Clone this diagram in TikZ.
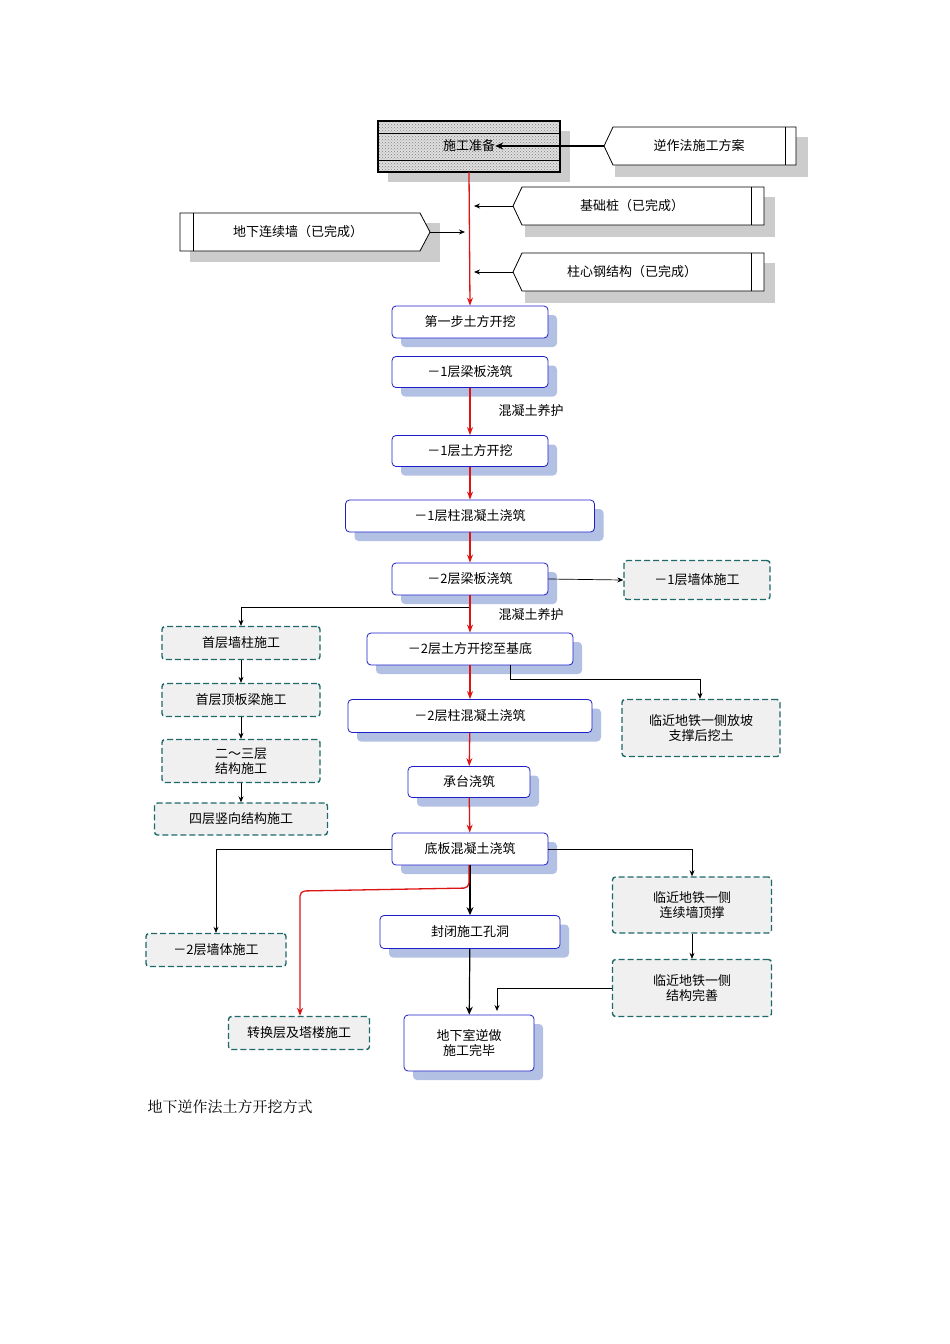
\documentclass[tikz,border=0pt]{standalone}
\usepackage{fontspec}
\setmainfont{Noto Sans CJK SC}
\newfontfamily\capfont{Noto Serif CJK SC}
\usetikzlibrary{arrows.meta,shadows,patterns,calc}
\definecolor{bshadow}{RGB}{178,192,228}
\definecolor{bborder}{RGB}{30,30,200}
\definecolor{tealb}{RGB}{30,105,105}
\definecolor{myred}{RGB}{220,20,20}
\tikzset{
  bn/.style={draw=bborder,thick,rounded corners=4pt,fill=white,font=\fontsize{13}{15}\selectfont,
    drop shadow={shadow xshift=9pt,shadow yshift=-9pt,fill=bshadow,opacity=1},inner sep=2pt},
  dn/.style={draw=tealb,line width=1.4pt,dash pattern=on 6pt off 3pt,rounded corners=3pt,fill=gray!12,
    font=\fontsize{13}{15}\selectfont,align=center,inner sep=1pt},
  gn/.style={font=\fontsize{13}{15}\selectfont,inner sep=0pt},
  ra/.style={myred,line width=1.3pt,-{Stealth[length=8pt,width=6pt]}},
  ka/.style={black,line width=0.7pt,-{Stealth[length=6pt,width=5pt]}},
  kb/.style={black,line width=1.2pt,-{Stealth[length=8pt,width=7pt]}},
  sh/.style={fill=gray!40,draw=none},
}
\begin{document}
\begin{tikzpicture}[x=1pt,y=-1pt]
\useasboundingbox (0,0) rectangle (950,1344);
% 施工准备
\fill[gray!40] (388,131) rectangle (570,182);
\draw[fill=gray!25] (378,121) rectangle (560,172);
\fill[pattern=crosshatch dots,pattern color=gray] (378,121) rectangle (560,172);
\draw[line width=1.2pt] (378,121) rectangle (560,172);
\draw (378,133) -- (560,133) (378,160) -- (560,160);
\node[gn] (prep) at (469,146) {施工准备};
% 逆作法施工方案
\fill[sh] (615,137) rectangle (808,177);
\draw[fill=white,line width=0.8pt] (613,127) -- (796,127) -- (796,165) -- (613,165) -- (604,146) -- cycle;
\draw (785,127) -- (785,165);
\node[gn] (plan) at (699,146) {逆作法施工方案};
\coordinate (planL) at (604,146);
% 基础桩
\fill[sh] (525,197) rectangle (775,237);
\draw[fill=white,line width=0.8pt] (522,187) -- (764,187) -- (764,225) -- (522,225) -- (513,206) -- cycle;
\draw (751,187) -- (751,225);
\node[gn] (pile) at (632,206) {基础桩（已完成）};
\coordinate (pileL) at (513,206);
% 柱心钢结构
\fill[sh] (525,263) rectangle (775,303);
\draw[fill=white,line width=0.8pt] (522,253) -- (764,253) -- (764,291) -- (522,291) -- (513,272) -- cycle;
\draw (751,253) -- (751,291);
\node[gn] (steel) at (632,272) {柱心钢结构（已完成）};
\coordinate (steelL) at (513,272);
% 地下连续墙
\fill[sh] (190,223) rectangle (440,262);
\draw[fill=white,line width=0.8pt] (180,213) -- (420,213) -- (430,232) -- (420,251) -- (180,251) -- cycle;
\draw (193,213) -- (193,251);
\node[gn] (wall) at (298,232) {地下连续墙（已完成）};
\coordinate (wallR) at (430,232);

% blue nodes
\node[bn,minimum width=156pt,minimum height=32pt] (s1) at (470,322) {第一步土方开挖};
\node[bn,minimum width=156pt,minimum height=31pt] (s2) at (470,372) {－1层梁板浇筑};
\node[bn,minimum width=156pt,minimum height=31pt] (s3) at (470,451) {－1层土方开挖};
\node[bn,minimum width=249pt,minimum height=32pt] (s4) at (470,516) {－1层柱混凝土浇筑};
\node[bn,minimum width=156pt,minimum height=32pt] (s5) at (470,579) {－2层梁板浇筑};
\node[bn,minimum width=206pt,minimum height=32pt] (s6) at (470,649) {－2层土方开挖至基底};
\node[bn,minimum width=244pt,minimum height=33pt] (s7) at (470,716) {－2层柱混凝土浇筑};
\node[bn,minimum width=122pt,minimum height=31pt] (s8) at (469,782) {承台浇筑};
\node[bn,minimum width=156pt,minimum height=32pt] (s9) at (470,849) {底板混凝土浇筑};
\node[bn,minimum width=180pt,minimum height=33pt] (s10) at (470,932) {封闭施工孔洞};
\node[bn,minimum width=130pt,minimum height=56pt,align=center] (s11) at (469,1043) {地下室逆做\\施工完毕};

% dashed nodes
\node[dn,minimum width=146pt,minimum height=39pt] (w1) at (697,580) {－1层墙体施工};
\node[dn,minimum width=158pt,minimum height=33pt] (f1) at (241,643) {首层墙柱施工};
\node[dn,minimum width=158pt,minimum height=33pt] (f2) at (241,700) {首层顶板梁施工};
\node[dn,minimum width=158pt,minimum height=43pt] (f3) at (241,761) {二～三层\\结构施工};
\node[dn,minimum width=173pt,minimum height=32pt] (f4) at (241,819) {四层竖向结构施工};
\node[dn,minimum width=158pt,minimum height=57pt] (m1) at (701,728) {临近地铁一侧放坡\\支撑后挖土};
\node[dn,minimum width=159pt,minimum height=56pt] (m2) at (692,905) {临近地铁一侧\\连续墙顶撑};
\node[dn,minimum width=159pt,minimum height=57pt] (m3) at (692,988) {临近地铁一侧\\结构完善};
\node[dn,minimum width=140pt,minimum height=33pt] (w2) at (216,950) {－2层墙体施工};
\node[dn,minimum width=141pt,minimum height=33pt] (t1) at (299,1033) {转换层及塔楼施工};

\node[gn] (cure1) at (531,411) {混凝土养护};
\node[gn] (cure2) at (531,615) {混凝土养护};

% connectors top
\draw[kb] (planL) -- (prep.east |- planL);
\coordinate (j0) at (469,172);
\draw[ra] (j0) -- (s1.north);
\draw[ka] (pileL) -- (474,206);
\draw[ka] (steelL) -- (474,272);
\draw[ka] (wallR) -- (465,232);
% main chain
\draw[ra] (s2) -- (s3);
\draw[ra] (s3) -- (s4);
\draw[ra] (s4) -- (s5);
\draw[ra] (s5) -- (s6);
\draw[ra] (s6) -- (s7);
\draw[ra] (s7) -- (s8);
\draw[ra] (s8) -- (s9);
% branches
\draw[ka] (s5.east) -- (w1.west);
\draw[ka] (469,607) -| (f1.north);
\draw[ka] (f1) -- (f2);
\draw[ka] (f2) -- (f3);
\draw[ka] (f3) -- (f4);
\draw[ka] (510,665) |- (700,679) -- (m1.north -| 700,0);
\draw[ka] (s9.west) -| (w2.north);
\draw[ka] (s9.east) -| (m2.north);
\draw[ka] (m2) -- (m3);
\draw[kb] (s9.south) -- (s10.north);
\draw[myred,line width=1.3pt,-{Stealth[length=8pt,width=6pt]},rounded corners=5pt] (469,865) -- (469,888) -- (300,891) -- (t1.north -| 300,0);
\draw[kb] (s10) -- (s11);
\draw[ka] (m3.west) -| (497,1011);

\node[anchor=west,font=\capfont\fontsize{15}{18}\selectfont] (cap) at (144,1107) {地下逆作法土方开挖方式};
\end{tikzpicture}
\end{document}
